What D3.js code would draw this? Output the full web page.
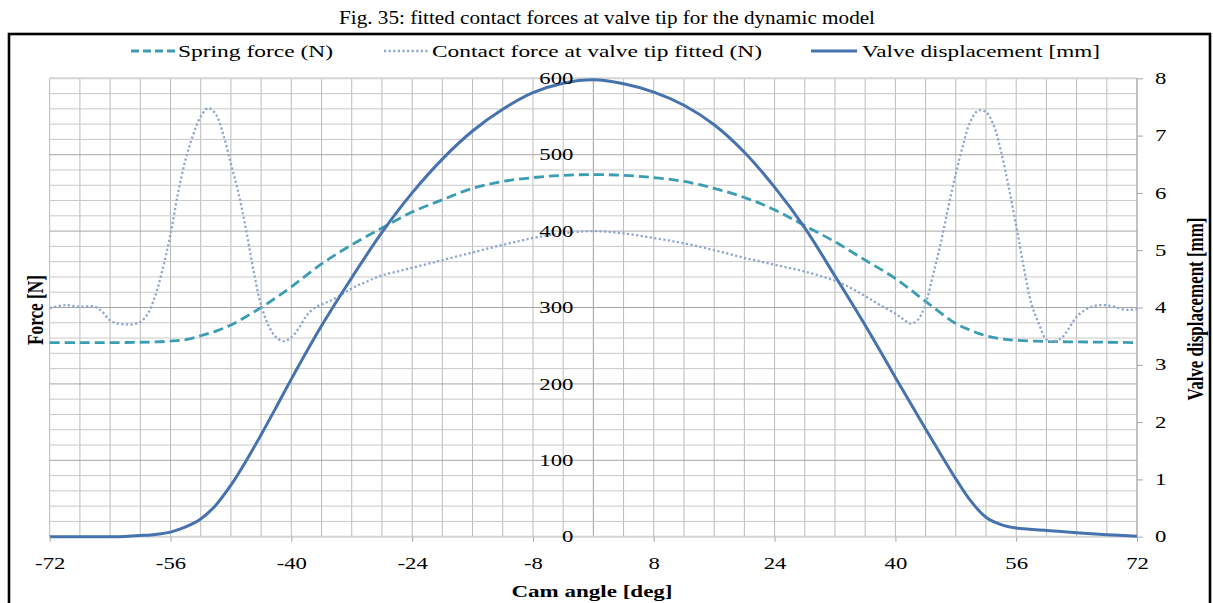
<!DOCTYPE html>
<html>
<head>
<meta charset="utf-8">
<script src="https://cdn.jsdelivr.net/npm/d3@7"></script>
<style>
  html, body { margin: 0; padding: 0; background: #fff; }
  svg { display: block; font-family: "Liberation Serif", "Times New Roman", serif; }
</style>
</head>
<body>
<svg id="chart" width="1213" height="603"></svg>
<script>
// Spring force (N) against cam angle (deg)
const springAngle = [-72,-68,-64,-60,-58,-56,-54,-52,-50,-48,-46,-44,-42,-40,-36,-32,-28,-24,-20,-16,
                     -12,-8,-4,0,4,8,12,16,20,24,28,32,36,40,44,48,50,52,54,56,60,64,68,72];
const springForce = [254,254,254,254.5,255,256,258,263,269,277,288,300,313,327,357,382,404,425,441,456,
                     465,470,473,474,473,470,465,456,444,428,407,386,362,338,308,279,270,263,259,257,255.5,255,254.5,254];

// Fitted contact force at the valve tip (N)
const contactAngle = [-72,-70,-68,-66,-65,-64,-63,-62,-61,-60,-59,-58,-57,-56,-55,-54,-53,-52,-51,-50,
                      -49,-48,-47,-46,-45,-44,-43,-42,-41,-40,-39,-38,-37,-36,-35,-34,-32,-30,-28,-26,
                      -24,-22,-20,-16,-12,-8,-4,0,4,8,12,16,20,24,28,32,34,36,38,40,
                      41,42,43,44,45,46,47,48,49,50,51,52,53,54,55,56,57,58,59,60,
                      61,62,63,64,65,66,67,68,69,70,71,72];
const contactForce = [299,303,301,301,294,283,279,278,278,281,292,316,352,396,450,494,526,550,561,553,
                      526,488,450,402,348,303,276,261,256,261,273,289,299,304,308,313,325,334,342,347,
                      352,357,362,372,382,391,397,400,397,391,384,375,365,356,347,335,326,315,303,292,
                      285,279,284,305,343,384,431,475,514,545,558,556,539,504,458,407,353,305,279,258,
                      256,260,273,288,296,301,303,303,301,298,297,298];

// Valve displacement (mm)
const dispAngle = [-72,-68,-64,-62,-60,-58,-56,-54,-52,-50,-48,-46,-44,-42,-40,-36,-32,-28,-24,-20,
                   -16,-12,-8,-4,0,4,8,12,16,20,24,28,32,36,40,44,46,48,50,52,54,56,60,64,68,72];
const dispValue = [0,0,0,0.005,0.02,0.04,0.08,0.17,0.31,0.55,0.90,1.32,1.78,2.26,2.75,3.68,4.52,5.31,6.0,6.59,
                   7.08,7.46,7.75,7.915,7.975,7.905,7.76,7.53,7.19,6.71,6.10,5.39,4.55,3.69,2.78,1.88,1.44,1.01,0.62,0.34,
                   0.21,0.15,0.11,0.07,0.035,0.01];

// Tick labels
const xTicks = [-72,-56,-40,-24,-8,8,24,40,56,72];
const forceTicks = [0,100,200,300,400,500,600];
const dispTicks = [0,1,2,3,4,5,6,7,8];

const svg = d3.select("#chart");
const x  = d3.scaleLinear().domain([-72, 72]).range([49.7, 1137]);
const yF = d3.scaleLinear().domain([0, 600]).range([536.7, 78.3]);
const yD = d3.scaleLinear().domain([0, 8]).range([536.7, 78.3]);

// chart texts are drawn horizontally widened
const WIDE = 1.42;
function widen(sel, k) {
  sel.each(function () {
    const w = this.getComputedTextLength();
    const anchor = getComputedStyle(this).textAnchor;
    const x0 = +(this.getAttribute("x") || 0);
    const nw = w * k;
    const xs = anchor === "end" ? x0 - nw : anchor === "middle" ? x0 - nw / 2 : x0;
    this.setAttribute("x", xs);
    this.setAttribute("text-anchor", "start");
    this.style.textAnchor = "start";
    this.setAttribute("textLength", nw);
    this.setAttribute("lengthAdjust", "spacingAndGlyphs");
  });
}

// title
svg.append("text")
  .attr("x", 607).attr("y", 24)
  .attr("text-anchor", "middle")
  .attr("font-size", 19)
  .attr("textLength", 536).attr("lengthAdjust", "spacingAndGlyphs")
  .text("Fig. 35: fitted contact forces at valve tip for the dynamic model");

// outer frame
svg.append("rect")
  .attr("x", 9).attr("y", 34).attr("width", 1201).attr("height", 600)
  .attr("fill", "none").attr("stroke", "#000").attr("stroke-width", 2.6);

// grid
const grid = svg.append("g");
grid.selectAll("line.v").data(d3.range(-72, 73, 4)).join("line")
  .attr("x1", d => x(d)).attr("x2", d => x(d))
  .attr("y1", yF(600)).attr("y2", yF(0))
  .attr("stroke", d => d === 0 ? "#9c9c9c" : "#bbbbbb").attr("stroke-width", 1);
grid.selectAll("line.h").data(d3.range(0, 601, 20)).join("line")
  .attr("x1", x(-72)).attr("x2", x(72))
  .attr("y1", d => yF(d)).attr("y2", d => yF(d))
  .attr("stroke", d => d === 600 || d === 0 ? "#d4d4d4" : (d % 100 === 0 ? "#a6a6a6" : "#c9c9c9"))
  .attr("stroke-width", d => d === 600 || d === 0 ? 2 : 1);

// right axis line
svg.append("line")
  .attr("x1", x(72)).attr("x2", x(72)).attr("y1", yD(8)).attr("y2", yD(0))
  .attr("stroke", "#a6a6a6");

// axes
const xAxis = svg.append("g")
  .attr("transform", `translate(0,${yF(0)})`)
  .call(d3.axisBottom(x).tickValues(xTicks).tickFormat(d => String(d)).tickSize(5).tickPadding(16));
const yAxisL = svg.append("g")
  .attr("transform", `translate(${x(0)},0)`)
  .call(d3.axisLeft(yF).tickValues(forceTicks).tickFormat(d => String(d)).tickSize(0).tickPadding(20));
const yAxisR = svg.append("g")
  .attr("transform", `translate(${x(72)},0)`)
  .call(d3.axisRight(yD).tickValues(dispTicks).tickFormat(d => String(d)).tickSize(6).tickPadding(12));

[xAxis, yAxisL, yAxisR].forEach(a => {
  a.select(".domain").remove();
  a.selectAll(".tick line").attr("stroke", "#a6a6a6");
  a.selectAll(".tick text")
    .attr("font-family", "Liberation Serif, Times New Roman, serif")
    .attr("font-size", 16).attr("fill", "#000");
});

// series
const curve = d3.curveCatmullRom.alpha(0.5);
const springLine = d3.line().x((d, i) => x(springAngle[i])).y(d => yF(d)).curve(curve);
const contactLine = d3.line().x((d, i) => x(contactAngle[i])).y(d => yF(d)).curve(curve);
const dispLine = d3.line().x((d, i) => x(dispAngle[i])).y(d => yD(d)).curve(curve);

const springStyle = { stroke: "#3a9db2", width: 2.8, dash: "10,5" };
const contactStyle = { stroke: "#8fa6cf", width: 2.3, dash: "2.2,2.4" };
const dispStyle = { stroke: "#4672ae", width: 3, dash: null };

const series = svg.append("g").attr("fill", "none");
series.append("path").attr("d", springLine(springForce))
  .attr("stroke", springStyle.stroke).attr("stroke-width", springStyle.width)
  .attr("stroke-dasharray", springStyle.dash);
series.append("path").attr("d", contactLine(contactForce))
  .attr("stroke", contactStyle.stroke).attr("stroke-width", contactStyle.width)
  .attr("stroke-dasharray", contactStyle.dash);
series.append("path").attr("d", dispLine(dispValue))
  .attr("stroke", dispStyle.stroke).attr("stroke-width", dispStyle.width)
  .attr("stroke-linejoin", "round");

// tick labels on top of the curves
[xAxis, yAxisL, yAxisR].forEach(a => a.raise());
svg.selectAll(".tick text").call(widen, WIDE);

// legend
const legendItems = [
  { label: "Spring force (N)", style: springStyle, dash: "8,4", x0: 131, x1: 175, tx: 178, tw: 155 },
  { label: "Contact force at valve tip fitted (N)", style: contactStyle, dash: contactStyle.dash, x0: 384, x1: 429, tx: 432, tw: 330 },
  { label: "Valve displacement [mm]", style: dispStyle, dash: null, x0: 811, x1: 857, tx: 862, tw: 238 }
];
const legend = svg.append("g");
legendItems.forEach(it => {
  legend.append("line")
    .attr("x1", it.x0).attr("x2", it.x1).attr("y1", 51).attr("y2", 51)
    .attr("stroke", it.style.stroke).attr("stroke-width", it.style.width)
    .attr("stroke-dasharray", it.dash);
  legend.append("text")
    .attr("x", it.tx).attr("y", 56.5)
    .attr("font-size", 16)
    .attr("textLength", it.tw).attr("lengthAdjust", "spacingAndGlyphs")
    .text(it.label);
});

// axis titles
svg.append("text")
  .attr("x", 592).attr("y", 597)
  .attr("text-anchor", "middle")
  .attr("font-size", 16).attr("font-weight", "bold")
  .attr("textLength", 161).attr("lengthAdjust", "spacingAndGlyphs")
  .text("Cam angle [deg]");
svg.append("text")
  .attr("transform", "translate(43,310) scale(1.4,1) rotate(-90)")
  .attr("text-anchor", "middle")
  .attr("font-size", 17).attr("font-weight", "bold")
  .attr("textLength", 70).attr("lengthAdjust", "spacingAndGlyphs")
  .text("Force [N]");
svg.append("text")
  .attr("transform", "translate(1203,309) scale(1.4,1) rotate(-90)")
  .attr("text-anchor", "middle")
  .attr("font-size", 16).attr("font-weight", "bold")
  .attr("textLength", 183).attr("lengthAdjust", "spacingAndGlyphs")
  .text("Valve displacement [mm]");
</script>
</body>
</html>
